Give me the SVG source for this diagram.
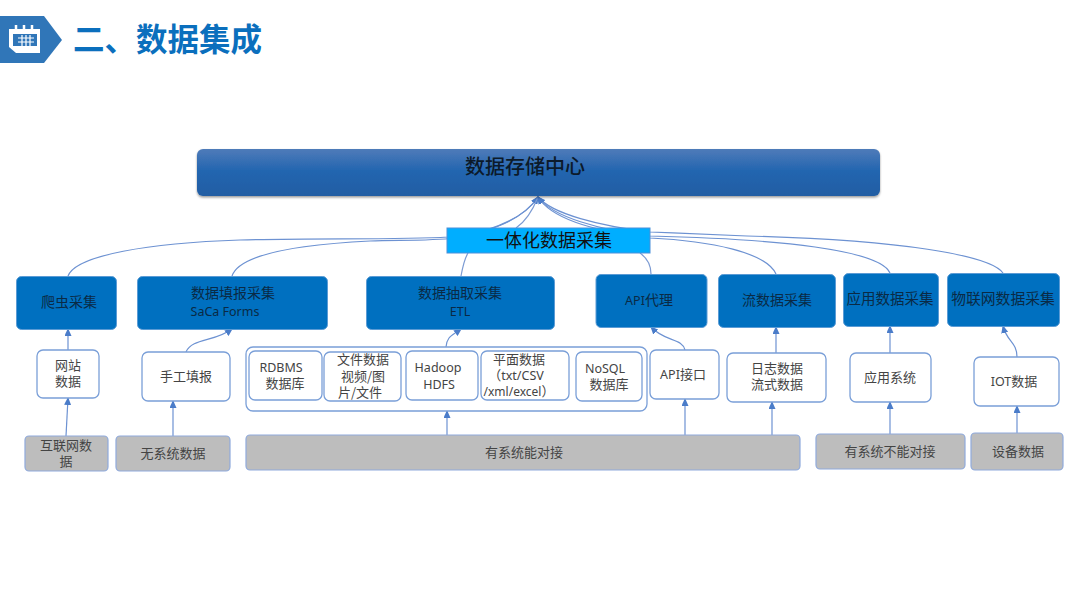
<svg xmlns="http://www.w3.org/2000/svg" width="1080" height="608" viewBox="0 0 1080 608">
<style>
text{font-family:"Noto Sans CJK SC","Noto Sans",sans-serif;text-anchor:middle;fill:#333}
.b rect{fill:#0070c0;stroke:#5b9bd5;stroke-width:1}
.b text{font-size:14px;fill:#0a2a45}
.w rect{fill:#fff;stroke:#7a9fd8;stroke-width:1.3}
.w text{font-size:13px;fill:#444}
.g rect{fill:#bdbdbd;stroke:#8faadc;stroke-width:1.2}
.g text{font-size:13px;fill:#444}
.l{font-family:"Noto Sans",sans-serif;font-size:12.5px}
#connectors path{fill:none;stroke:#7c9bd3;stroke-width:1.2}
#connectors .a{marker-end:url(#ah);stroke:#6d92d2}
</style>
<defs>
<linearGradient id="mg" x1="0" y1="0" x2="0" y2="1"><stop offset="0" stop-color="#4f7bb9"/><stop offset=".45" stop-color="#2466b0"/><stop offset="1" stop-color="#215da3"/></linearGradient>
<filter id="sh" x="-2%" y="-10%" width="104%" height="125%"><feDropShadow dx="0" dy="1.5" stdDeviation="1.2" flood-color="#000" flood-opacity=".4"/></filter>
<marker id="ah" markerUnits="userSpaceOnUse" markerWidth="8" markerHeight="7" refX="7" refY="3.500" orient="auto"><path d="M0 0L8 3.500L0 7Z" fill="#4a7cc9"/></marker>
</defs>
<g id="header">
<path d="M0 16H44L62 40L44 63H0Z" fill="#3076b8"/>
<path d="M9 29H40V53H16L9 47Z" fill="#fff"/>
<path d="M13 34H37V46H13Z" fill="#3076b8"/>
<g fill="none" stroke="#fff">
<path d="M16 25V32M24 25V32M32 25V32" stroke-width="2.500"/>
<path d="M18 38H34M18 42H34M22 35V46M26 35V46M30 35V46" stroke-width="1.200"/>
</g>
<text x="73" y="51" style="text-anchor:start;font-size:31.500px;font-weight:700;fill:#0b6fbd">二、数据集成</text>
</g>
<g id="connectors">
<path class="a" d="M68 276C76 255 150 243 240 240C320 238 400 240 448 237C490 233 522 220 538 197"/>
<path class="a" d="M232 276C240 252 310 244 370 241C400 240 430 241 455 238C495 230 525 218 538 197"/>
<path d="M461 276C463 265 465 258 468 253"/>
<path d="M516 228C525 222 532 212 538 197"/>
<path d="M651 274C651 265 647 258 640 253"/>
<path class="a" d="M776 274C766 252 710 241 650 238C600 232 552 220 538 197"/>
<path class="a" d="M890 273C880 250 780 239 650 236C600 230 552 217 538 197"/>
<path class="a" d="M1003 273C990 255 900 240 747 236C700 234 680 233 650 232C600 226 552 214 538 197"/>
<path class="a" d="M68 350V329"/>
<path class="a" d="M66 436L68 398"/>
<path class="a" d="M186 352C192 338 215 342 232 329"/>
<path class="a" d="M173 436V401"/>
<path class="a" d="M446 347C447 336 452 336 461 329"/>
<path class="a" d="M447 436V411"/>
<path class="a" d="M685 350C682 338 665 342 651 327"/>
<path class="a" d="M685 435V399"/>
<path class="a" d="M776 353V327"/>
<path class="a" d="M772 435V402"/>
<path class="a" d="M890 353V326"/>
<path class="a" d="M890 434V402"/>
<path class="a" d="M1017 357C1017 342 1007 342 1003 326"/>
<path class="a" d="M1017 433V406"/>
</g>
<g id="center"><rect x="197" y="149" width="683" height="47" rx="6" fill="url(#mg)" filter="url(#sh)"/><text x="525" y="174" style="font-size:20px;font-weight:500;fill:#0c1a2a">数据存储中心</text></g>
<g id="collect"><rect x="447" y="228" width="203" height="25" fill="#00aeff" stroke="#4a90d9"/><text x="549" y="247" style="font-size:18px;fill:#111">一体化数据采集</text></g>
<g id="n1" class="b"><rect x="16.500" y="276.500" width="100" height="53" rx="5"/><text x="69" y="307">爬虫采集</text></g>
<g id="n2" class="b"><rect x="137.500" y="276.500" width="190" height="53" rx="5"/><text x="233" y="298">数据填报采集<tspan class="l" x="225" dy="18">SaCa Forms</tspan></text></g>
<g id="n3" class="b"><rect x="366.500" y="276.500" width="188" height="53" rx="5"/><text x="460" y="298">数据抽取采集<tspan class="l" x="460" dy="18">ETL</tspan></text></g>
<g id="n4" class="b"><rect x="596" y="274.500" width="111" height="53" rx="5"/><text x="649" y="305"><tspan class="l">API</tspan>代理</text></g>
<g id="n5" class="b"><rect x="718.500" y="274.500" width="117" height="53" rx="5"/><text x="777" y="305">流数据采集</text></g>
<g id="n6" class="b"><rect x="843.500" y="273.500" width="95" height="53" rx="5"/><text x="890" y="304" style="font-size:14.500px">应用数据采集</text></g>
<g id="n7" class="b"><rect x="947.500" y="273.500" width="112" height="53" rx="5"/><text x="1003" y="304" style="font-size:14.800px">物联网数据采集</text></g>
<g id="w1" class="w"><rect x="37" y="350" width="62" height="48" rx="6"/><text x="68" y="370">网站<tspan x="68" dy="16">数据</tspan></text></g>
<g id="w2" class="w"><rect x="142" y="352" width="88" height="49" rx="6"/><text x="186" y="381">手工填报</text></g>
<g id="group-box" class="w"><rect x="246" y="347" width="401" height="64" rx="7"/></g>
<g id="w3" class="w"><rect x="249" y="351" width="73" height="49" rx="6"/><text x="281" y="372"><tspan class="l">RDBMS</tspan><tspan x="285" dy="16">数据库</tspan></text></g>
<g id="w4" class="w"><rect x="324" y="352" width="77" height="49" rx="6"/><text x="363" y="364">文件数据<tspan x="363" dy="17">视频/图</tspan><tspan x="360" dy="16">片/文件</tspan></text></g>
<g id="w5" class="w"><rect x="406" y="351" width="72" height="49" rx="6"/><text x="438" y="372"><tspan class="l">Hadoop</tspan><tspan class="l" x="439" dy="17">HDFS</tspan></text></g>
<g id="w6" class="w"><rect x="481" y="351" width="88" height="49" rx="6"/><text x="519" y="364">平面数据<tspan x="516" dy="16">（</tspan><tspan class="l">txt/CSV</tspan><tspan class="l" x="519" dy="16" style="font-size:12px">/xml/excel</tspan><tspan>）</tspan></text></g>
<g id="w7" class="w"><rect x="576" y="352" width="66" height="49" rx="6"/><text x="605" y="373"><tspan class="l">NoSQL</tspan><tspan x="609" dy="16">数据库</tspan></text></g>
<g id="w8" class="w"><rect x="650" y="350" width="69" height="49" rx="6"/><text x="683" y="379"><tspan class="l">API</tspan>接口</text></g>
<g id="w9" class="w"><rect x="727" y="353" width="99" height="49" rx="6"/><text x="777" y="373">日志数据<tspan x="777" dy="16">流式数据</tspan></text></g>
<g id="w10" class="w"><rect x="850" y="353" width="81" height="49" rx="6"/><text x="890" y="382">应用系统</text></g>
<g id="w11" class="w"><rect x="974" y="357" width="85" height="49" rx="6"/><text x="1014" y="386"><tspan class="l">IOT</tspan>数据</text></g>
<g id="g1" class="g"><rect x="25" y="436" width="83" height="35" rx="4"/><text x="66" y="450">互联网数<tspan x="66" dy="16">据</tspan></text></g>
<g id="g2" class="g"><rect x="116" y="436" width="114" height="35" rx="4"/><text x="173" y="458">无系统数据</text></g>
<g id="g3" class="g"><rect x="246" y="435" width="554" height="35" rx="4"/><text x="524" y="457">有系统能对接</text></g>
<g id="g4" class="g"><rect x="816" y="434" width="149" height="35" rx="4"/><text x="890" y="456">有系统不能对接</text></g>
<g id="g5" class="g"><rect x="971" y="433" width="92" height="37" rx="4"/><text x="1018" y="456">设备数据</text></g>
</svg>
